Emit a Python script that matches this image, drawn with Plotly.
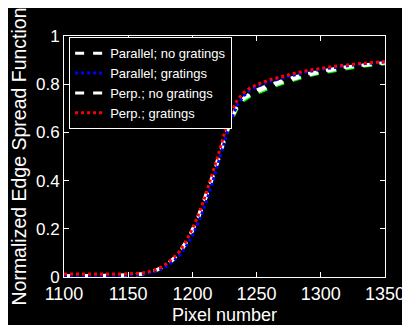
import plotly.graph_objects as go

pixels = [1100, 1110, 1120, 1130, 1140, 1150, 1160, 1165, 1170, 1175, 1180, 1185, 1190,
          1195, 1200, 1205, 1210, 1215, 1220, 1225, 1230, 1235, 1240, 1245, 1250,
          1260, 1270, 1280, 1290, 1300, 1310, 1320, 1330, 1340, 1350]

par_no_grat = [0.005, 0.005, 0.006, 0.006, 0.007, 0.008, 0.012, 0.017, 0.025, 0.036, 0.052,
               0.072, 0.100, 0.140, 0.190, 0.250, 0.320, 0.400, 0.480, 0.570, 0.650, 0.708,
               0.742, 0.762, 0.776, 0.798, 0.816, 0.831, 0.844, 0.855, 0.864, 0.872, 0.879,
               0.885, 0.890]
par_grat = [0.004, 0.004, 0.005, 0.005, 0.006, 0.007, 0.010, 0.014, 0.021, 0.031, 0.045,
            0.064, 0.090, 0.126, 0.172, 0.230, 0.300, 0.380, 0.465, 0.560, 0.650, 0.715,
            0.752, 0.775, 0.790, 0.810, 0.826, 0.840, 0.852, 0.862, 0.870, 0.877, 0.883,
            0.888, 0.892]
perp_no_grat = [0.005, 0.005, 0.006, 0.006, 0.007, 0.008, 0.012, 0.017, 0.025, 0.037, 0.054,
                0.076, 0.106, 0.147, 0.198, 0.260, 0.332, 0.412, 0.494, 0.582, 0.660, 0.712,
                0.740, 0.756, 0.768, 0.790, 0.808, 0.824, 0.838, 0.850, 0.860, 0.869, 0.876,
                0.882, 0.888]
perp_grat = [0.012, 0.012, 0.012, 0.012, 0.012, 0.013, 0.016, 0.020, 0.028, 0.039, 0.056,
             0.078, 0.107, 0.148, 0.200, 0.262, 0.335, 0.418, 0.505, 0.598, 0.680, 0.735,
             0.765, 0.785, 0.798, 0.818, 0.833, 0.846, 0.857, 0.866, 0.874, 0.880, 0.886,
             0.890, 0.894]
green_ref = [0.003, 0.003, 0.004, 0.004, 0.005, 0.006, 0.010, 0.015, 0.023, 0.034, 0.050,
             0.070, 0.098, 0.138, 0.188, 0.248, 0.318, 0.398, 0.478, 0.566, 0.645, 0.700,
             0.732, 0.750, 0.762, 0.784, 0.803, 0.819, 0.834, 0.846, 0.856, 0.865, 0.873,
             0.879, 0.885]

x_ticks = [1100, 1150, 1200, 1250, 1300, 1350]
y_ticks = [0, 0.2, 0.4, 0.6, 0.8, 1]
y_tick_labels = ["0", "0.2", "0.4", "0.6", "0.8", "1"]

FONT = "Liberation Sans, Arial, sans-serif"

fig = go.Figure()
fig.add_trace(go.Scatter(x=pixels, y=green_ref, mode="lines", showlegend=False,
                         line=dict(color="#00ff00", width=3, dash="dash"), hoverinfo="skip"))
fig.add_trace(go.Scatter(x=pixels, y=par_no_grat, mode="lines", name="Parallel; no gratings",
                         legendrank=1, line=dict(color="white", width=3, dash="dash")))
fig.add_trace(go.Scatter(x=pixels, y=perp_no_grat, mode="lines", name="Perp.; no gratings",
                         legendrank=3, line=dict(color="white", width=3, dash="dash")))
fig.add_trace(go.Scatter(x=pixels, y=par_grat, mode="lines", name="Parallel; gratings",
                         legendrank=2, line=dict(color="#0000ff", width=3, dash="dot")))
fig.add_trace(go.Scatter(x=pixels, y=perp_grat, mode="lines", name="Perp.; gratings",
                         legendrank=4, line=dict(color="#ff0000", width=3, dash="dot")))

axis_common = dict(showline=True, linecolor="white", linewidth=1, mirror="ticks",
                   ticks="inside", ticklen=5, tickcolor="white", showgrid=False,
                   zeroline=False, automargin=False)

# page body adds an 8px offset, so the figure is sized/margined to land on the same pixels
fig.update_layout(
    width=402, height=317,
    paper_bgcolor="black", plot_bgcolor="black",
    margin=dict(l=56, r=25, t=28, b=48),
    font=dict(family=FONT, color="white"),
    xaxis=dict(range=[1100, 1350], tickvals=x_ticks, ticktext=[str(v) for v in x_ticks],
               tickfont=dict(family=FONT, size=18, color="white"),
               title=dict(text="Pixel number", font=dict(family=FONT, size=18, color="white")),
               **axis_common),
    yaxis=dict(range=[0, 1], tickvals=y_ticks, ticktext=y_tick_labels,
               tickfont=dict(family=FONT, size=17, color="white"),
               title=dict(text="Normalized Edge Spread Function",
                          font=dict(family=FONT, size=19.5, color="white")),
               **axis_common),
    legend=dict(x=0.016, y=0.995, xanchor="left", yanchor="top",
                bgcolor="black", bordercolor="white", borderwidth=1,
                font=dict(family=FONT, size=13, color="white"),
                tracegroupgap=0, itemwidth=30),
    showlegend=True,
)

fig.write_html("out.html")
